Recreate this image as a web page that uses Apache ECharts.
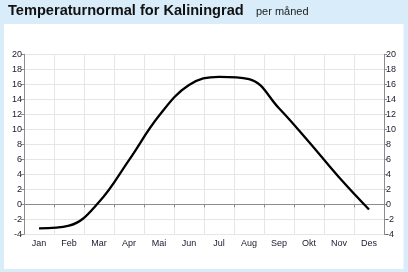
<!DOCTYPE html>
<html><head><meta charset="utf-8">
<script src="https://cdn.jsdelivr.net/npm/echarts@6/dist/echarts.min.js"></script>
<style>html,body{margin:0;padding:0;}#c{width:408px;height:272px;}</style>
</head><body><div id="c"></div>
<script>
var months = ['Jan','Feb','Mar','Apr','Mai','Jun','Jul','Aug','Sep','Okt','Nov','Des'];
var temps = [-3.2, -2.85, 0.3, 5.9, 11.8, 15.9, 17.0, 16.7, 12.8, 8.3, 3.6, -0.7];
var yMin = -4, yMax = 20, yStep = 2;
var titleText = 'Temperaturnormal for Kaliningrad';
var subText = 'per måned';

var chart = echarts.init(document.getElementById('c'), null, {renderer:'canvas'});
var labelFont = {fontFamily:'Liberation Sans', fontSize:9, color:'#1a1a2e'};
function yAxis(pos){
  return {
    type:'value', position:pos, min:yMin, max:yMax, interval:yStep,
    axisLine:{show:true, lineStyle:{color:'#8c8c8c', width:1}},
    axisTick:{show:true, length:3, lineStyle:{color:'#8c8c8c'}},
    axisLabel:Object.assign({margin:2}, labelFont),
    splitLine:{show:pos==='left', lineStyle:{color:'#e6e6e6', width:1}}
  };
}
chart.setOption({
  backgroundColor:'#d8edf9',
  animation:false,
  graphic:[{type:'rect', shape:{x:4, y:24, width:399.5, height:245}, style:{fill:'#ffffff'}, z:-10}],
  title:[
    {text:titleText, left:8, top:3, padding:0, textStyle:{fontFamily:'Liberation Sans', fontWeight:'bold', fontSize:14.6, color:'#111'}},
    {text:subText, left:256, top:6, padding:0, textStyle:{fontFamily:'Liberation Sans', fontWeight:'normal', fontSize:11, color:'#222'}}
  ],
  grid:{left:24, right:24, top:54.3, bottom:37.7},
  xAxis:{
    type:'category', data:months, boundaryGap:true,
    axisLine:{show:true, lineStyle:{color:'#8c8c8c', width:1}},
    axisTick:{show:true, length:3, lineStyle:{color:'#8c8c8c'}},
    axisLabel:Object.assign({margin:5}, labelFont),
    splitLine:{show:true, lineStyle:{color:'#e6e6e6', width:1}}
  },
  yAxis:[yAxis('left'), yAxis('right')],
  series:[{
    type:'line', data:temps, smooth:0.4, showSymbol:false, symbol:'none',
    lineStyle:{color:'#000', width:2.3}
  }]
});
</script></body></html>
